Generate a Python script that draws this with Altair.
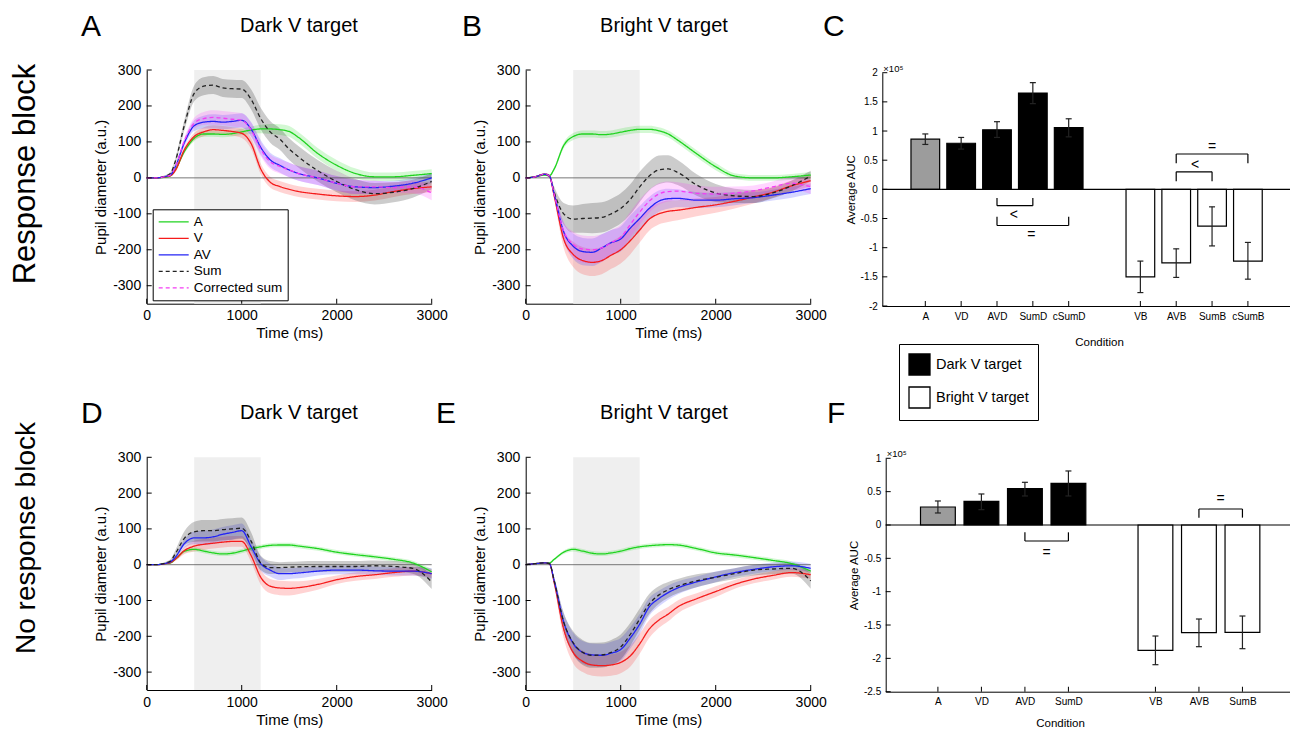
import altair as alt
import pandas as pd

FONT = "Liberation Sans"

# ---------------- time-course data (pupil diameter, a.u.) ----------------
T = [0, 100, 200, 250, 300, 400, 500, 600, 700, 800, 900, 1000, 1100, 1200,
     1300, 1400, 1500, 1600, 1800, 2000, 2200, 2400, 2600, 2800, 3000]

SERIES = ["A", "V", "AV", "Sum", "Corrected sum"]
LINE_COLORS = ["#1fd31f", "#f51b1b", "#2323f5", "#222222", "#f43df4"]
BAND_COLORS = ["#22dd22", "#ff2222", "#3333ff", "#000000", "#ff33ff"]
LINE_WIDTHS = [1.3, 1.3, 1.3, 1.8, 1.8]
DASHES = [[1, 0], [1, 0], [1, 0], [4, 3], [4, 3]]

STIM_ON = [500]
STIM_OFF = [1200]
T_DOM = [0, 3000]
Y_DOM = [-350, 300]
T_TICKS = [0, 1000, 2000, 3000]
Y_TICKS = [-300, -200, -100, 0, 100, 200, 300]

# Panel A: response block, dark V target
RA_A = [0, 0, 2, 6, 22, 75, 110, 122, 122, 121, 123, 128, 133, 136, 136, 134, 129, 112, 68, 35, 12, 3, 3, 7, 12]
RA_V = [0, 0, 3, 6, 20, 80, 115, 128, 134, 132, 129, 124, 95, 25, -12, -24, -32, -38, -45, -50, -52, -48, -38, -30, -25]
RA_AV = [0, 0, 4, 8, 30, 100, 145, 155, 157, 155, 157, 160, 135, 85, 50, 35, 22, 12, 0, -15, -25, -27, -23, -15, 0]
RA_SUM = [0, 0, 5, 12, 45, 150, 235, 255, 258, 250, 248, 247, 218, 165, 128, 108, 80, 58, 20, -10, -33, -44, -40, -30, -10]
RA_CSUM = [0, 0, 4, 8, 30, 105, 152, 165, 168, 166, 163, 160, 133, 80, 45, 32, 22, 12, 0, -15, -25, -25, -27, -25, -42]
RA_A_E = [0, 1, 2, 3, 4, 6, 8, 8, 8, 8, 8, 9, 10, 12, 14, 15, 15, 15, 15, 15, 14, 12, 12, 12, 12]
RA_V_E = [0, 1, 2, 3, 5, 8, 10, 12, 12, 12, 12, 13, 15, 15, 15, 15, 15, 15, 15, 15, 15, 15, 15, 15, 15]
RA_AV_E = [0, 1, 2, 3, 5, 10, 15, 18, 20, 20, 20, 20, 20, 20, 20, 20, 20, 20, 20, 20, 20, 18, 15, 15, 15]
RA_SUM_E = [0, 1, 3, 5, 8, 15, 22, 25, 25, 25, 25, 25, 28, 30, 30, 30, 30, 30, 30, 30, 30, 30, 28, 25, 22]
RA_CSUM_E = [0, 1, 2, 3, 5, 10, 15, 18, 20, 20, 20, 20, 20, 20, 20, 20, 20, 20, 20, 20, 20, 18, 15, 18, 20]

# Panel B: response block, bright V target
RB_A = [0, 3, 8, 6, 25, 90, 115, 122, 122, 120, 122, 127, 132, 135, 135, 131, 122, 105, 67, 31, 5, 0, 0, 3, 8]
RB_V = [0, 3, 10, 5, -50, -170, -213, -230, -235, -230, -215, -200, -175, -145, -115, -100, -93, -90, -82, -75, -65, -53, -40, -22, -8]
RB_AV = [0, 3, 10, 5, -45, -150, -190, -205, -207, -195, -180, -170, -140, -113, -85, -65, -58, -57, -62, -62, -58, -55, -48, -40, -30]
RB_SUM = [0, 3, 10, 5, -40, -100, -115, -113, -112, -110, -100, -85, -60, -25, 5, 22, 25, 15, -20, -42, -50, -52, -42, -22, 5]
RB_CSUM = [0, 3, 10, 5, -45, -148, -185, -198, -200, -195, -180, -165, -130, -95, -65, -45, -38, -37, -43, -45, -42, -36, -25, -15, -25]
RB_A_E = [0, 2, 2, 3, 5, 8, 10, 10, 10, 10, 10, 10, 10, 10, 10, 10, 10, 10, 10, 10, 8, 8, 8, 8, 8]
RB_V_E = [0, 2, 3, 4, 10, 25, 35, 38, 38, 38, 38, 38, 38, 35, 32, 30, 30, 28, 25, 22, 20, 18, 15, 15, 15]
RB_AV_E = [0, 2, 3, 4, 10, 25, 35, 38, 38, 38, 35, 35, 35, 35, 32, 30, 28, 25, 22, 20, 18, 15, 15, 15, 15]
RB_SUM_E = [0, 2, 3, 5, 15, 30, 38, 40, 42, 42, 42, 42, 42, 42, 40, 40, 38, 35, 30, 25, 20, 18, 15, 15, 15]
RB_CSUM_E = [0, 2, 3, 4, 10, 25, 35, 38, 38, 38, 35, 35, 35, 35, 32, 30, 28, 25, 22, 20, 18, 15, 15, 18, 20]

# Panel D: no response block, dark V target
ND_A = [0, 0, 3, 5, 15, 38, 43, 38, 33, 30, 32, 38, 45, 50, 54, 55, 55, 52, 45, 35, 28, 22, 15, 5, -20]
ND_V = [0, 0, 3, 6, 15, 40, 52, 57, 60, 63, 65, 65, 25, -35, -60, -65, -66, -64, -55, -42, -33, -28, -22, -18, -25]
ND_AV = [0, 0, 4, 8, 20, 60, 75, 75, 78, 85, 90, 95, 50, 3, -15, -25, -25, -23, -18, -15, -15, -17, -18, -18, -25]
ND_SUM = [0, 0, 5, 10, 30, 75, 92, 95, 95, 98, 100, 102, 65, 5, -8, -8, -7, -6, -5, -5, -5, -3, -5, -10, -48]
ND_A_E = [0, 1, 2, 2, 3, 5, 6, 6, 6, 6, 6, 6, 6, 6, 6, 6, 6, 6, 6, 6, 6, 6, 6, 6, 8]
ND_V_E = [0, 1, 2, 3, 5, 10, 15, 15, 15, 15, 15, 15, 18, 20, 20, 20, 20, 18, 15, 12, 12, 12, 12, 12, 12]
ND_AV_E = [0, 1, 2, 3, 5, 12, 18, 20, 20, 20, 20, 20, 20, 20, 18, 18, 15, 15, 12, 12, 12, 12, 12, 12, 15]
ND_SUM_E = [0, 1, 3, 5, 10, 20, 28, 30, 30, 30, 30, 30, 25, 20, 18, 15, 15, 15, 15, 15, 15, 15, 15, 15, 20]

# Panel E: no response block, bright V target
NE_A = [0, 3, 5, 5, 15, 35, 43, 38, 32, 30, 33, 38, 45, 50, 53, 55, 56, 55, 45, 33, 27, 20, 12, 3, -18]
NE_V = [0, 3, 5, 3, -50, -180, -245, -270, -280, -282, -280, -273, -255, -221, -180, -155, -138, -118, -95, -75, -55, -40, -30, -22, -28]
NE_AV = [0, 3, 5, 3, -45, -160, -220, -245, -252, -253, -247, -237, -205, -166, -118, -95, -78, -65, -48, -34, -22, -13, -6, -3, -10]
NE_SUM = [0, 3, 5, 3, -45, -160, -218, -245, -253, -252, -245, -230, -195, -152, -110, -85, -70, -60, -45, -35, -25, -15, -12, -10, -45]
NE_A_E = [0, 1, 2, 2, 3, 5, 6, 6, 6, 6, 6, 6, 6, 6, 6, 6, 6, 6, 6, 6, 6, 6, 6, 6, 6]
NE_V_E = [0, 1, 2, 3, 10, 25, 30, 30, 30, 30, 30, 30, 30, 28, 25, 22, 20, 18, 15, 15, 12, 12, 12, 12, 12]
NE_AV_E = [0, 1, 2, 3, 10, 25, 30, 32, 32, 32, 32, 32, 30, 28, 25, 22, 20, 18, 15, 15, 12, 12, 12, 12, 12]
NE_SUM_E = [0, 1, 2, 3, 10, 25, 32, 35, 35, 35, 35, 35, 32, 30, 28, 25, 22, 20, 18, 15, 15, 15, 15, 15, 22]

# ---------------- bar data (average AUC, x 10^5) ----------------
GROUPS = ["A", "Dark V target", "Bright V target"]
GROUP_COLORS = ["#9c9c9c", "#000000", "#ffffff"]

C_NAMES = ["A", "VD", "AVD", "SumD", "cSumD", "VB", "AVB", "SumB", "cSumB"]
C_POS = [1, 2, 3, 4, 5, 7, 8, 9, 10]
C_MEAN = [0.86, 0.79, 1.02, 1.65, 1.06, -1.50, -1.26, -0.63, -1.23]
C_LO = [0.77, 0.69, 0.89, 1.47, 0.90, -1.77, -1.51, -0.97, -1.54]
C_HI = [0.95, 0.89, 1.16, 1.83, 1.21, -1.23, -1.02, -0.30, -0.91]
C_GRP = ["A", "Dark V target", "Dark V target", "Dark V target", "Dark V target",
         "Bright V target", "Bright V target", "Bright V target", "Bright V target"]
C_YTICKS = [-2, -1.5, -1, -0.5, 0, 0.5, 1, 1.5, 2]
C_XDOM = [-0.2, 11.9]
C_YDOM = [-2, 2]
C_BR_X1 = [3, 3, 8, 8]
C_BR_X2 = [4, 5, 9, 10]
C_BR_YH = [-0.28, -0.62, 0.30, 0.606]
C_BR_YE = [-0.15, -0.47, 0.14, 0.446]
C_BR_LAB = ["<", "=", "<", "="]
C_BR_LX = [3.47, 3.96, 8.53, 9.0]
C_BR_LY = [-0.44, -0.78, 0.42, 0.73]

F_NAMES = ["A", "VD", "AVD", "SumD", "VB", "AVB", "SumB"]
F_POS = [1, 2, 3, 4, 6, 7, 8]
F_MEAN = [0.27, 0.355, 0.545, 0.625, -1.88, -1.615, -1.61]
F_LO = [0.18, 0.23, 0.435, 0.435, -2.095, -1.825, -1.855]
F_HI = [0.36, 0.465, 0.64, 0.81, -1.665, -1.41, -1.365]
F_GRP = ["A", "Dark V target", "Dark V target", "Dark V target",
         "Bright V target", "Bright V target", "Bright V target"]
F_YTICKS = [-2.5, -2, -1.5, -1, -0.5, 0, 0.5, 1]
F_XDOM = [-0.2, 9.5]
F_YDOM = [-2.5, 1]
F_BR_X1 = [3, 7]
F_BR_X2 = [4, 8]
F_BR_YH = [-0.24, 0.24]
F_BR_YE = [-0.11, 0.11]
F_BR_LAB = ["=", "="]
F_BR_LX = [3.5, 7.5]
F_BR_LY = [-0.42, 0.39]

BAR_HALF = 0.4
W, H = 1282, 727
ONE = pd.DataFrame({"k": [0]})


def ts_frame(means, errs):
    rows = []
    for s, m, e in zip(SERIES, means, errs):
        if m is None:
            continue
        for t, v, d in zip(T, m, e):
            rows.append({"t": t, "v": v, "lo": v - d, "hi": v + d, "series": s})
    return pd.DataFrame(rows)


def lin(domain, rng):
    return alt.Scale(domain=domain, range=rng, nice=False, zero=False, padding=0)


def axis(orient, off, values, expr, size, pad, title, tsize, tpad=None, **kw):
    extra = dict(kw)
    if tpad is not None:
        extra["titlePadding"] = tpad
    return alt.Axis(orient=orient, offset=off, values=values, labelExpr=expr,
                    ticks=False, grid=False, domainColor="black", domainWidth=1,
                    labelFont=FONT, labelFontSize=size, labelColor="black",
                    labelPadding=pad, labelFlush=False, labelOverlap=False,
                    title=title, titleFont=FONT, titleFontSize=tsize,
                    titleFontWeight="normal", titleColor="black", **extra)


def ts_panel(df, xr, yr, legend=None):
    xs = lin(T_DOM, xr)
    ys = lin(Y_DOM, yr)
    xa = axis("bottom", yr[0] - H, T_TICKS, "'' + datum.value", 14, 5,
              "Time (ms)", 15, 3)
    ya = axis("left", -xr[0], Y_TICKS, "'' + datum.value", 14, 6,
              "Pupil diameter (a.u.)", 15, 4)
    X = lambda f: alt.X(f, scale=xs, axis=xa)
    Y = lambda f: alt.Y(f, scale=ys, axis=ya)
    XD = lambda d: alt.XDatum(datum=d, scale=xs, axis=xa)
    YD = lambda d: alt.YDatum(datum=d, scale=ys, axis=ya)
    present = [s for s in SERIES if s in set(df["series"])]

    stim = alt.Chart(pd.DataFrame({"on": STIM_ON, "off": STIM_OFF})).mark_rect(
        color="#efefef").encode(x=X("on:Q"), x2="off:Q",
                                y=YD(Y_DOM[0]), y2=alt.Y2Datum(datum=Y_DOM[1]))
    bands = [alt.Chart(df).transform_filter(alt.datum.series == s).mark_area(
        fill=c, fillOpacity=0.2, interpolate="monotone").encode(
        x=X("t:Q"), y=Y("lo:Q"), y2="hi:Q")
        for s, c in zip(SERIES, BAND_COLORS) if s in present]
    zero = alt.Chart(ONE).mark_rule(color="#555555", strokeWidth=0.8).encode(
        x=XD(T_DOM[0]), x2=alt.X2Datum(datum=T_DOM[1]), y=YD(0))
    lines = alt.Chart(df).mark_line(interpolate="monotone").encode(
        x=X("t:Q"), y=Y("v:Q"),
        stroke=alt.Stroke("series:N", scale=alt.Scale(domain=SERIES, range=LINE_COLORS),
                          legend=legend),
        strokeDash=alt.StrokeDash("series:N", scale=alt.Scale(domain=SERIES, range=DASHES),
                                  legend=legend),
        strokeWidth=alt.StrokeWidth("series:N",
                                    scale=alt.Scale(domain=SERIES, range=LINE_WIDTHS),
                                    legend=legend))
    xt = alt.Chart(pd.DataFrame({"v": T_TICKS})).mark_tick(
        orient="vertical", size=5, thickness=1, yOffset=-2.5, color="black",
        opacity=1).encode(x=X("v:Q"), y=YD(Y_DOM[0]))
    yt = alt.Chart(pd.DataFrame({"v": Y_TICKS})).mark_tick(
        orient="horizontal", size=5, thickness=1, xOffset=2.5, color="black",
        opacity=1).encode(y=Y("v:Q"), x=XD(T_DOM[0]))
    return alt.layer(stim, *bands, zero, lines, xt, yt)


def bar_panel(names, pos, mean, lo, hi, grp, xdom, ydom, yticks, xr, yr,
              br, cond_xy, legend=None):
    df = pd.DataFrame({"name": names, "pos": pos, "val": mean, "lo": lo,
                       "hi": hi, "grp": grp})
    xs = lin(xdom, xr)
    ys = lin(ydom, yr)
    lab = [""] * (max(pos) + 1)
    for n, p in zip(names, pos):
        lab[p] = n
    label_expr = "[" + ",".join("'%s'" % s for s in lab) + "][datum.value]"
    xa = axis("bottom", yr[0] - H, pos, label_expr, 10, 5, "Condition", 11.5,
              None, titleX=cond_xy[0], titleY=cond_xy[1], titleAlign="center",
              titleBaseline="middle")
    ya = axis("left", -xr[0], yticks, "'' + datum.value", 10, 5,
              "Average AUC", 11.5, 4)
    X = lambda f: alt.X(f, scale=xs, axis=xa)
    Y = lambda f: alt.Y(f, scale=ys, axis=ya)
    XD = lambda d: alt.XDatum(datum=d, scale=xs, axis=xa)
    YD = lambda d: alt.YDatum(datum=d, scale=ys, axis=ya)

    bars = alt.Chart(df).transform_calculate(
        l="datum.pos - %s" % BAR_HALF, r="datum.pos + %s" % BAR_HALF
    ).mark_bar(stroke="black", strokeWidth=1.2).encode(
        x=X("l:Q"), x2="r:Q", y=Y("val:Q"), y2=alt.Y2Datum(datum=0),
        fill=alt.Fill("grp:N", scale=alt.Scale(domain=GROUPS, range=GROUP_COLORS),
                      legend=legend))
    zero = alt.Chart(ONE).mark_rule(color="black", strokeWidth=1.2).encode(
        x=XD(xdom[0]), x2=alt.X2Datum(datum=xdom[1]), y=YD(0))
    err = alt.Chart(df).mark_rule(color="#222222", strokeWidth=1.2).encode(
        x=X("pos:Q"), y=Y("lo:Q"), y2="hi:Q")
    caps = [alt.Chart(df).mark_tick(orient="horizontal", size=6, thickness=1.2,
                                    color="#222222", opacity=1).encode(
        x=X("pos:Q"), y=Y(f + ":Q")) for f in ("lo", "hi")]
    bdf = pd.DataFrame({"x1": br[0], "x2": br[1], "yh": br[2], "ye": br[3],
                        "lab": br[4], "lx": br[5], "ly": br[6]})
    bh = alt.Chart(bdf).mark_rule(color="black", strokeWidth=1.2).encode(
        x=X("x1:Q"), x2="x2:Q", y=Y("yh:Q"))
    bv = [alt.Chart(bdf).mark_rule(color="black", strokeWidth=1.2).encode(
        x=X(f + ":Q"), y=Y("yh:Q"), y2="ye:Q") for f in ("x1", "x2")]
    bt = alt.Chart(bdf).mark_text(font=FONT, fontSize=14, color="black",
                                  baseline="middle").encode(
        x=X("lx:Q"), y=Y("ly:Q"), text="lab:N")
    expo = alt.Chart(ONE).mark_text(font=FONT, fontSize=9.5, color="black",
                                    align="left", baseline="bottom", dx=1, dy=1).encode(
        x=XD(xdom[0]), y=YD(ydom[1]), text=alt.value("×10⁵"))
    xt = alt.Chart(pd.DataFrame({"v": pos})).mark_tick(
        orient="vertical", size=5, thickness=1, yOffset=-2.5, color="black",
        opacity=1).encode(x=X("v:Q"), y=YD(ydom[0]))
    yt = alt.Chart(pd.DataFrame({"v": yticks})).mark_tick(
        orient="horizontal", size=5, thickness=1, xOffset=2.5, color="black",
        opacity=1).encode(y=Y("v:Q"), x=XD(xdom[0]))
    return alt.layer(bars, zero, err, *caps, bh, *bv, bt, expo, xt, yt)


def label(text, x, y, size, align="left", angle=0):
    return alt.Chart(ONE).mark_text(font=FONT, fontSize=size, align=align,
                                    baseline="alphabetic", angle=angle,
                                    color="black").encode(
        x=alt.value(x), y=alt.value(y), text=alt.value(text))


legA = alt.Legend(orient="none", legendX=144.7, legendY=201.3, title=None,
                  strokeColor="black", fillColor="white", padding=5,
                  symbolType="stroke", symbolSize=900,
                  labelFont=FONT, labelFontSize=13.5, labelColor="black",
                  rowPadding=1.5, clipHeight=15, labelOffset=4)
legC = alt.Legend(orient="none", legendX=891, legendY=336, title=None,
                  values=["Dark V target", "Bright V target"],
                  strokeColor="black", fillColor="white", padding=9,
                  symbolType="square", symbolSize=441, symbolStrokeColor="black",
                  symbolStrokeWidth=1.3, labelFont=FONT, labelFontSize=14.5,
                  labelColor="black", rowPadding=6, labelOffset=5)

XR_L = [138.7, 423.7]
XR_M = [517.7, 802.7]
YR_TOP = [295.7, 62]
YR_BOT = [682, 449.3]

pA = ts_panel(ts_frame([RA_A, RA_V, RA_AV, RA_SUM, RA_CSUM],
                       [RA_A_E, RA_V_E, RA_AV_E, RA_SUM_E, RA_CSUM_E]), XR_L, YR_TOP, legA)
pB = ts_panel(ts_frame([RB_A, RB_V, RB_AV, RB_SUM, RB_CSUM],
                       [RB_A_E, RB_V_E, RB_AV_E, RB_SUM_E, RB_CSUM_E]), XR_M, YR_TOP)
pD = ts_panel(ts_frame([ND_A, ND_V, ND_AV, ND_SUM, None],
                       [ND_A_E, ND_V_E, ND_AV_E, ND_SUM_E, None]), XR_L, YR_BOT)
pE = ts_panel(ts_frame([NE_A, NE_V, NE_AV, NE_SUM, None],
                       [NE_A_E, NE_V_E, NE_AV_E, NE_SUM_E, None]), XR_M, YR_BOT)
pC = bar_panel(C_NAMES, C_POS, C_MEAN, C_LO, C_HI, C_GRP, C_XDOM, C_YDOM, C_YTICKS,
               [874.3, 1308], [298, 64.7],
               (C_BR_X1, C_BR_X2, C_BR_YH, C_BR_YE, C_BR_LAB, C_BR_LX, C_BR_LY),
               (1091, 36), legC)
pF = bar_panel(F_NAMES, F_POS, F_MEAN, F_LO, F_HI, F_GRP, F_XDOM, F_YDOM, F_YTICKS,
               [877.7, 1299.7], [683.7, 450.3],
               (F_BR_X1, F_BR_X2, F_BR_YH, F_BR_YE, F_BR_LAB, F_BR_LX, F_BR_LY),
               (1052, 32), None)

texts = [
    label("Response block", 26.5, 166, 31, align="center", angle=270),
    label("No response block", 26.5, 530, 28, align="center", angle=270),
    label("A", 73, 28, 30), label("B", 454, 28, 30), label("C", 815, 28, 30),
    label("D", 73, 415, 30), label("E", 428, 415, 30), label("F", 819, 415, 30),
    label("Dark V target", 291, 24, 20, align="center"),
    label("Bright V target", 656, 24, 20, align="center"),
    label("Dark V target", 291, 411, 20, align="center"),
    label("Bright V target", 656, 411, 20, align="center"),
]

chart = alt.layer(*texts, pA, pB, pC, pD, pE, pF).resolve_scale(
    x="independent", y="independent", fill="independent", stroke="independent",
    strokeDash="independent", strokeWidth="independent"
).resolve_axis(x="independent", y="independent").resolve_legend(
    fill="independent", stroke="independent", strokeDash="independent",
    strokeWidth="independent"
).properties(
    width=W, height=H, autosize=alt.AutoSizeParams(type="none"), padding=0,
    background="white"
).configure_view(stroke=None)

chart.save("out.html", embed_options={"renderer": "svg", "actions": False})
